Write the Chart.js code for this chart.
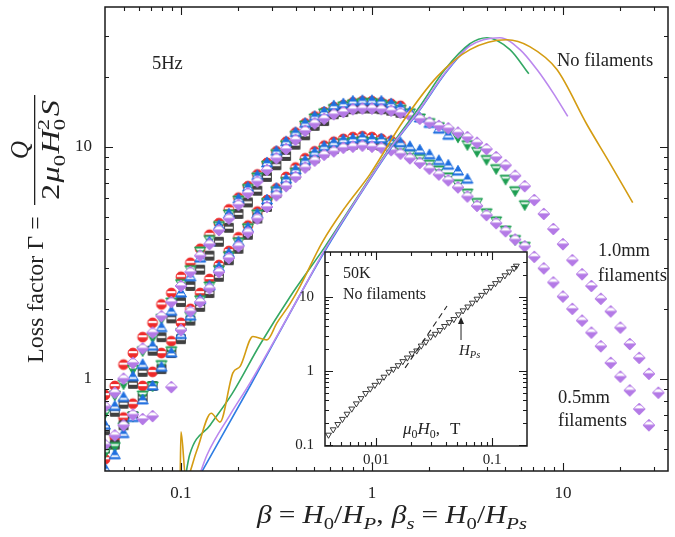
<!DOCTYPE html>
<html>
<head>
<meta charset="utf-8">
<script src="https://cdn.jsdelivr.net/npm/chart.js@4.4.0/dist/chart.umd.min.js"></script>
<style>
  html, body { margin: 0; padding: 0; background: #fff; }
  #wrap { position: relative; width: 675px; height: 537px; }
  #mainChart { position: absolute; left: 0; top: 0; }
  #insetChart { position: absolute; left: 280px; top: 245px; }
</style>
</head>
<body>
<div id="wrap">
  <canvas id="mainChart" width="675" height="537"></canvas>
  <canvas id="insetChart" width="255" height="222"></canvas>
</div>
<script>
// field ratio beta (shared x values for the filament samples)
const betaGrid = [0.040, 0.045, 0.050, 0.056, 0.063, 0.071, 0.079, 0.089, 0.100, 0.112, 0.126, 0.141, 0.158, 0.178, 0.200,
  0.224, 0.251, 0.282, 0.316, 0.355, 0.398, 0.447, 0.501, 0.562, 0.631, 0.708, 0.794, 0.891, 1.00, 1.12, 1.26, 1.41,
  1.58, 1.78, 2.00, 2.24, 2.51, 2.82, 3.16, 3.55, 3.98, 4.47, 5.01, 5.62, 6.31, 7.08, 7.94, 8.91, 10.0, 11.2, 12.6,
  14.1, 15.8, 17.8, 20.0, 22.4, 25.1, 28.2, 31.6];

// 1.0 mm filaments
const mm10Red = [0.85, 0.93, 1.15, 1.29, 1.51, 1.74, 2.09, 2.34, 2.75, 3.16, 3.63, 4.17, 4.68, 5.37, 6.03, 6.76, 7.59, 8.51,
  9.55, 10.5, 11.5, 12.6, 13.5, 14.1, 14.8, 15.1, 15.5, 15.7, 15.7, 15.5, 15.3, 15.0];
const mm10Black = [0.60, 0.72, 0.78, 0.95, 1.07, 1.32, 1.51, 1.82, 2.14, 2.51, 2.95, 3.39, 3.89, 4.47, 5.13, 5.75, 6.46, 7.41,
  8.32, 9.12, 10.2, 11.2, 12.3, 12.9, 13.8, 14.1, 14.5, 14.6, 14.6, 14.5, 14.3, 14.0];
const mm10Green = [0.71, 0.85, 0.95, 1.10, 1.32, 1.51, 1.82, 2.14, 2.57, 2.95, 3.55, 3.98, 4.57, 5.13, 5.89, 6.61, 7.41, 8.32,
  9.33, 10.2, 11.2, 12.4, 13.3, 14.0, 14.6, 15.0, 15.3, 15.5, 15.5, 15.3, 15.0, 14.5, 14.0, 13.3, 12.7, 12.2, 11.6, 11.0,
  10.2, 9.55, 8.81, 8.04, 7.24, 6.46, 5.62];
const mm10Blue = [0.63, 0.76, 0.83, 1.02, 1.15, 1.38, 1.66, 1.95, 2.34, 2.75, 3.31, 3.89, 4.57, 5.13, 5.96, 6.68, 7.50, 8.51,
  9.55, 10.5, 11.5, 12.6, 13.5, 14.1, 15.0, 15.3, 15.7, 15.8, 15.8, 15.7, 15.3, 14.8, 14.1, 13.3, 12.6, 11.9, 11.2];
const mm10Purple = [0.76, 0.87, 1.00, 1.17, 1.35, 1.58, 1.86, 2.14, 2.51, 2.88, 3.39, 3.80, 4.37, 4.90, 5.62, 6.31, 7.08, 7.94,
  8.91, 9.77, 10.7, 11.7, 12.6, 13.2, 13.8, 14.1, 14.5, 14.6, 14.6, 14.5, 14.3, 14.0, 13.6, 13.2, 12.7, 12.3, 12.0, 11.5,
  11.0, 10.4, 9.77, 9.02, 8.32, 7.50, 6.76, 5.89, 5.13, 4.42, 3.80, 3.24, 2.82, 2.51, 2.21, 1.95, 1.66, 1.41, 1.23, 1.05, 0.87];

// 0.5 mm filaments
const mm05Red = [0.45, 0.56, 0.68, 0.78, 0.93, 1.07, 1.29, 1.45, 1.74, 2.00, 2.34, 2.69, 3.09, 3.55, 4.07, 4.57, 5.25, 5.89,
  6.61, 7.41, 8.13, 8.91, 9.55, 10.1, 10.5, 10.8, 11.0, 11.1, 11.0, 10.8, 10.6, 10.2];
const mm05Black = [0.50, 0.52, 0.63, 0.69, 0.83, 0.93, 1.10, 1.29, 1.48, 1.78, 2.04, 2.34, 2.75, 3.24, 3.63, 4.17, 4.90, 5.50,
  6.31, 6.92, 7.59, 8.32, 8.91, 9.44, 9.77, 10.1, 10.2, 10.4, 10.2, 10.1, 9.89];
const mm05Green = [0.48, 0.51, 0.62, 0.69, 0.85, 0.93, 1.15, 1.32, 1.58, 1.86, 2.19, 2.51, 2.95, 3.39, 3.89, 4.47, 5.13, 5.75,
  6.46, 7.08, 7.76, 8.51, 9.12, 9.66, 10.0, 10.4, 10.5, 10.6, 10.5, 10.4, 10.1, 9.77, 9.33, 8.91, 8.41, 7.94, 7.41, 6.92,
  6.31, 5.75, 5.19, 4.79, 4.37, 3.98, 3.72];
const mm05Blue = [0.41, 0.47, 0.58, 0.68, 0.81, 0.93, 1.12, 1.29, 1.55, 1.86, 2.19, 2.51, 3.02, 3.47, 3.89, 4.47, 5.13, 5.89,
  6.61, 7.24, 7.94, 8.71, 9.44, 10.0, 10.4, 10.7, 10.8, 11.0, 10.8, 10.8, 10.6, 10.4, 10.0, 9.66, 9.23, 8.71, 8.32, 7.85, 7.24];
const mm05Purple = [0.52, 0.57, 0.63, 0.70, 0.67, 0.69, null, 0.92, 1.62, 1.95, 2.14, 2.45, 2.88, 3.31, 3.72, 4.27, 4.90, 5.50,
  6.17, 6.76, 7.41, 8.13, 8.71, 9.23, 9.55, 9.89, 10.0, 10.1, 10.0, 9.89, 9.66, 9.33, 8.91, 8.51, 8.04, 7.59, 7.16, 6.68,
  6.10, 5.56, 5.07, 4.68, 4.32, 3.98, 3.72, 3.35, 2.99, 2.60, 2.26, 2.00, 1.78, 1.58, 1.38, 1.17, 1.02, 0.89, 0.74, 0.63];

// no filaments (lines)
const noFilBlueBeta = [0.127, 0.23, 0.42, 0.567, 0.865, 1.24, 1.78, 2.41, 3.26];
const noFilBlueLoss = [0.39, 0.93, 2.30, 3.55, 6.2, 9.7, 14.4, 20.6, 27.8];
const noFilGreenBeta = [0.105, 0.111, 0.142, 0.185, 0.259, 0.372, 0.567, 0.865, 1.24, 1.78, 2.41, 3.26, 4.0, 5.28, 6.63];
const noFilGreenLoss = [0.37, 0.47, 0.63, 0.86, 1.40, 2.25, 3.70, 6.3, 9.9, 14.9, 21.5, 27.8, 29.5, 26.2, 20.6];
const noFilPurpleBeta = [0.123, 0.137, 0.181, 0.23, 0.42, 0.567, 0.865, 1.24, 1.78, 2.41, 3.26, 4.68, 5.96, 7.31, 8.87, 10.6];
const noFilPurpleLoss = [0.37, 0.47, 0.70, 0.96, 2.30, 3.60, 6.25, 9.8, 14.5, 20.8, 27.2, 29.5, 26.2, 21.5, 17.1, 13.5];
const noFilOrangeBeta = [0.099, 0.100, 0.106, 0.121, 0.144, 0.160, 0.187, 0.204, 0.238, 0.282, 0.318, 0.372, 0.42, 0.547,
  0.72, 0.976, 1.45, 2.19, 3.26, 5.09, 6.7, 9.3, 13.4, 17.6, 23.2];
const noFilOrangeLoss = [0.37, 0.59, 0.37, 0.49, 0.71, 0.65, 1.06, 1.13, 1.52, 1.47, 1.74, 2.10, 2.50, 3.85, 5.45, 7.6,
  12.8, 20.0, 26.2, 28.9, 27.0, 21.5, 12.4, 8.5, 5.74];

// inset: 50K, no filaments, against mu0*H0 in T
const insetField = [0.00389, 0.00427, 0.00468, 0.00513, 0.00562, 0.00617, 0.00676, 0.00741, 0.00813, 0.00891, 0.00977,
  0.0107, 0.0117, 0.0129, 0.0141, 0.0155, 0.0170, 0.0186, 0.0204, 0.0224, 0.0245, 0.0269, 0.0295, 0.0324, 0.0355, 0.0389,
  0.0427, 0.0468, 0.0513, 0.0562, 0.0617, 0.0676, 0.0741, 0.0813, 0.0891, 0.0977, 0.107, 0.117, 0.129, 0.141, 0.155, 0.162];
const insetLoss = [0.137, 0.162, 0.191, 0.224, 0.263, 0.309, 0.363, 0.427, 0.501, 0.575, 0.646, 0.733, 0.832, 0.97, 1.06,
  1.19, 1.35, 1.51, 1.72, 1.88, 2.19, 2.47, 2.90, 3.16, 3.55, 4.03, 4.54, 5.00, 5.79, 6.55, 7.38, 8.32, 9.42, 10.6, 12.0,
  13.6, 15.3, 17.3, 19.5, 21.9, 24.5, 26.3];
const insetRefField = [0.0178, 0.0409];
const insetRefLoss = [1.10, 7.56];
const insetArrowField = [0.054, 0.054];
const insetArrowLoss = [2.62, 5.37];

// axis ticks
const mainXMajor = [0.1, 1, 10];
const mainXMinor = [0.05, 0.06, 0.07, 0.08, 0.09, 0.2, 0.3, 0.4, 0.5, 0.6, 0.7, 0.8, 0.9, 2, 3, 4, 5, 6, 7, 8, 9, 20, 30];
const mainYMajor = [1, 10];
const mainYMinor = [0.5, 0.6, 0.7, 0.8, 0.9, 2, 3, 4, 5, 6, 7, 8, 9, 20, 30];
const insetXMajor = [0.01, 0.1];
const insetXMinor = [0.004, 0.005, 0.006, 0.007, 0.008, 0.009, 0.02, 0.03, 0.04, 0.05, 0.06, 0.07, 0.08, 0.09];
const insetYMajor = [0.1, 1, 10];
const insetYMinor = [0.2, 0.3, 0.4, 0.5, 0.6, 0.7, 0.8, 0.9, 2, 3, 4, 5, 6, 7, 8, 9, 20, 30];

const SERIF = '"Liberation Serif", "Times New Roman", serif';
Chart.defaults.font.family = SERIF;
Chart.defaults.color = '#222';

function pts(xs, ys) {
  const out = [];
  ys.forEach((y, i) => { if (y !== null) out.push({ x: xs[i], y: y }); });
  return out;
}

// little marker pictures with the white highlight band
function makeMarker(shape, color) {
  const s = 14, m = s / 2;
  const c = document.createElement('canvas');
  c.width = s; c.height = s;
  const g = c.getContext('2d');
  g.beginPath();
  if (shape === 'circle') g.arc(m, m, 4.9, 0, Math.PI * 2);
  else if (shape === 'square') g.rect(m - 4.4, m - 4.4, 8.8, 8.8);
  else if (shape === 'up') { g.moveTo(m, m - 5.7); g.lineTo(m + 5.5, m + 4); g.lineTo(m - 5.5, m + 4); g.closePath(); }
  else if (shape === 'down') { g.moveTo(m, m + 5.7); g.lineTo(m + 5.5, m - 4); g.lineTo(m - 5.5, m - 4); g.closePath(); }
  else { g.moveTo(m, m - 5.9); g.lineTo(m + 5.9, m); g.lineTo(m, m + 5.9); g.lineTo(m - 5.9, m); g.closePath(); }
  g.fillStyle = color;
  g.fill();
  g.save();
  g.clip();
  g.fillStyle = '#fff';
  if (shape === 'circle') g.fillRect(0, m - 1.9, s, 2.1);
  else if (shape === 'square') g.fillRect(0, m - 1.2, s, 2.1);
  else if (shape === 'up') g.fillRect(0, m + 0.4, s, 1.9);
  else if (shape === 'down') g.fillRect(0, m - 2.5, s, 1.9);
  else g.fillRect(0, m - 3.6, s, 3.0);
  g.restore();
  g.lineWidth = 1;
  g.strokeStyle = color;
  g.stroke();
  return c;
}

const RED = '#ee2a2a', BLACK = '#404040', GREEN = '#1e9e52', BLUE = '#1f6fe0', PURPLE = '#b47ae6';
const redDot = makeMarker('circle', RED);
const blackSq = makeMarker('square', BLACK);
const greenTri = makeMarker('down', GREEN);
const blueTri = makeMarker('up', BLUE);
const purpleDia = makeMarker('diamond', PURPLE);

function markerSet(label, ys, img, order) {
  return { label: label, data: pts(betaGrid, ys), pointStyle: img, pointRadius: 5, showLine: false, order: order, clip: 0 };
}
function curveSet(label, xs, ys, color) {
  return { label: label, data: pts(xs, ys), showLine: true, pointRadius: 0, borderColor: color, borderWidth: 1.6,
    cubicInterpolationMode: 'monotone', fill: false, order: 0, clip: 0 };
}

// text with italics, sub- and superscripts; numbers are extra gaps
function fontFor(f, size) {
  const s = (f.includes('b') || f.includes('p')) ? size * 0.7 : size;
  return (f.includes('i') ? 'italic ' : '') + s.toFixed(1) + 'px ' + SERIF;
}
function richWidth(ctx, parts, size) {
  let w = 0;
  parts.forEach(p => {
    if (typeof p === 'number') { w += p; return; }
    ctx.font = fontFor(p[1], size);
    if (!p[1].includes('k')) w += ctx.measureText(p[0]).width;
  });
  return w;
}
function drawRich(ctx, parts, x, y, size, align, fitWidth) {
  const nat = richWidth(ctx, parts, size);
  const sx = fitWidth ? fitWidth / nat : 1;
  const x0 = align === 'center' ? x - nat * sx / 2 : x;
  ctx.save();
  ctx.translate(x0, y);
  ctx.scale(sx, 1);
  ctx.textAlign = 'left';
  ctx.textBaseline = 'alphabetic';
  let px = 0;
  parts.forEach(p => {
    if (typeof p === 'number') { px += p; return; }
    const t = p[0], f = p[1];
    ctx.font = fontFor(f, size);
    const dy = f.includes('b') ? size * 0.22 : (f.includes('p') ? -size * 0.4 : 0);
    ctx.fillText(t, px, dy);
    if (!f.includes('k')) px += ctx.measureText(t).width;
  });
  ctx.restore();
}

function drawFrame(chart, xMaj, xMin, yMaj, yMin) {
  const { ctx, chartArea: a, scales } = chart;
  ctx.save();
  ctx.strokeStyle = '#1a1a1a';
  ctx.lineWidth = 1.1;
  ctx.beginPath();
  const xt = (v, len) => {
    const px = Math.round(scales.x.getPixelForValue(v)) + 0.5;
    ctx.moveTo(px, a.bottom); ctx.lineTo(px, a.bottom - len);
    ctx.moveTo(px, a.top); ctx.lineTo(px, a.top + len);
  };
  const yt = (v, len) => {
    const py = Math.round(scales.y.getPixelForValue(v)) + 0.5;
    ctx.moveTo(a.left, py); ctx.lineTo(a.left + len, py);
    ctx.moveTo(a.right, py); ctx.lineTo(a.right - len, py);
  };
  xMaj.forEach(v => xt(v, 8));
  xMin.forEach(v => xt(v, 4));
  yMaj.forEach(v => yt(v, 8));
  yMin.forEach(v => yt(v, 4));
  ctx.stroke();
  ctx.lineWidth = 1.5;
  ctx.strokeRect(a.left, a.top, a.width, a.height);
  ctx.restore();
}

// fixed axis boxes so the plot area lands where the figure has it
function fixX(h) {
  return s => { s.height = h; s.paddingLeft = 0; s.paddingRight = 0; s.paddingTop = 0; s.paddingBottom = 0; };
}
function fixY(w) {
  return s => { s.width = w; s.paddingLeft = 0; s.paddingRight = 0; s.paddingTop = 0; s.paddingBottom = 0; };
}

const mainDecor = {
  id: 'mainDecor',
  afterDraw(chart) {
    const ctx = chart.ctx;
    drawFrame(chart, mainXMajor, mainXMinor, mainYMajor, mainYMinor);
    ctx.save();
    ctx.fillStyle = '#222';
    ctx.font = '18.5px ' + SERIF;
    ctx.fillText('5Hz', 152, 69);
    ctx.fillText('No filaments', 557, 66);
    ctx.fillText('1.0mm', 598, 256);
    ctx.fillText('filaments', 598, 281);
    ctx.fillText('0.5mm', 558, 403);
    ctx.fillText('filaments', 558, 426);

    // x axis title
    drawRich(ctx, [['β', 'i'], 6, ['=', ''], 6, ['H', 'i'], ['0', 'b'], ['/', ''], ['H', 'i'], ['P', 'ib'], [',', ''], 7,
      ['β', 'i'], ['s', 'ib'], 6, ['=', ''], 6, ['H', 'i'], ['0', 'b'], ['/', ''], ['H', 'i'], ['Ps', 'ib']],
      392, 523, 25, 'center', 270);

    // y axis title with the fraction
    ctx.translate(43, 363);
    ctx.rotate(-Math.PI / 2);
    drawRich(ctx, [['Loss factor Γ =', '']], 0, 0, 24, 'left');
    ctx.fillRect(158, -9, 110, 1.3);
    drawRich(ctx, [['Q', 'i']], 213, -15, 25, 'center');
    drawRich(ctx, [['2', ''], 1, ['μ', 'i'], ['0', 'b'], 1, ['H', 'i'], ['0', 'bk'], ['2', 'p'], 2, ['S', 'i']],
      213, 16, 25, 'center', 100);
    ctx.restore();
  }
};

new Chart(document.getElementById('mainChart'), {
  type: 'scatter',
  data: {
    datasets: [
      curveSet('No filaments (orange)', noFilOrangeBeta, noFilOrangeLoss, '#d49c12'),
      curveSet('No filaments (purple)', noFilPurpleBeta, noFilPurpleLoss, '#bb88ee'),
      curveSet('No filaments (green)', noFilGreenBeta, noFilGreenLoss, '#34a864'),
      curveSet('No filaments (blue)', noFilBlueBeta, noFilBlueLoss, '#2e7de3'),
      markerSet('1.0mm purple', mm10Purple, purpleDia, 1),
      markerSet('0.5mm purple', mm05Purple, purpleDia, 1),
      markerSet('1.0mm blue', mm10Blue, blueTri, 2),
      markerSet('0.5mm blue', mm05Blue, blueTri, 2),
      markerSet('1.0mm green', mm10Green, greenTri, 3),
      markerSet('0.5mm green', mm05Green, greenTri, 3),
      markerSet('1.0mm black', mm10Black, blackSq, 4),
      markerSet('0.5mm black', mm05Black, blackSq, 4),
      markerSet('1.0mm red', mm10Red, redDot, 5),
      markerSet('0.5mm red', mm05Red, redDot, 5)
    ]
  },
  options: {
    responsive: false,
    animation: false,
    layout: { padding: { top: 7, right: 7, left: 0, bottom: 0 } },
    plugins: { legend: { display: false }, tooltip: { enabled: false } },
    scales: {
      x: {
        type: 'logarithmic', min: 0.04, max: 35.5,
        grid: { display: false, drawTicks: false }, border: { display: false },
        ticks: { padding: 12, font: { size: 17 }, color: '#222', maxRotation: 0, autoSkip: false, callback: v => String(v) },
        afterBuildTicks: s => { s.ticks = mainXMajor.map(v => ({ value: v })); },
        afterFit: fixX(66)
      },
      y: {
        type: 'logarithmic', min: 0.4, max: 40,
        grid: { display: false, drawTicks: false }, border: { display: false },
        ticks: { padding: 13, font: { size: 17 }, color: '#222', autoSkip: false, callback: v => String(v) },
        afterBuildTicks: s => { s.ticks = mainYMajor.map(v => ({ value: v })); },
        afterFit: fixY(105)
      }
    }
  },
  plugins: [mainDecor]
});

// inset
const insetDecor = {
  id: 'insetDecor',
  beforeDraw(chart) {
    const { ctx, chartArea: a } = chart;
    ctx.save();
    ctx.fillStyle = '#fff';
    ctx.fillRect(a.left, a.top, a.width, a.height);
    ctx.restore();
  },
  afterDraw(chart) {
    const { ctx, scales } = chart;
    drawFrame(chart, insetXMajor, insetXMinor, insetYMajor, insetYMinor);
    ctx.save();
    ctx.fillStyle = '#222';
    ctx.font = '16px ' + SERIF;
    ctx.fillText('50K', 63, 33);
    ctx.fillText('No filaments', 63, 54);
    drawRich(ctx, [['μ', 'i'], ['0', 'b'], ['H', 'i'], ['0', 'b'], [',', ''], 10, ['T', '']], 123, 189, 17, 'left');
    drawRich(ctx, [['H', 'i'], ['Ps', 'ib']], 179, 110, 15, 'left');
    // arrow pointing at H_Ps
    const ax = scales.x.getPixelForValue(insetArrowField[0]);
    const ay0 = scales.y.getPixelForValue(insetArrowLoss[0]);
    const ay1 = scales.y.getPixelForValue(insetArrowLoss[1]);
    ctx.strokeStyle = '#222';
    ctx.lineWidth = 1;
    ctx.beginPath();
    ctx.moveTo(ax, ay0); ctx.lineTo(ax, ay1 + 5);
    ctx.stroke();
    ctx.beginPath();
    ctx.moveTo(ax, ay1); ctx.lineTo(ax - 3, ay1 + 7); ctx.lineTo(ax + 3, ay1 + 7); ctx.closePath();
    ctx.fill();
    ctx.restore();
  }
};

new Chart(document.getElementById('insetChart'), {
  type: 'scatter',
  data: {
    datasets: [
      { label: 'reference', data: pts(insetRefField, insetRefLoss), showLine: true, pointRadius: 0,
        borderColor: '#222', borderWidth: 1.1, borderDash: [6, 4], clip: 0 },
      { label: '50K no filaments', data: pts(insetField, insetLoss), pointStyle: 'triangle', rotation: 180,
        pointRadius: 3.4, borderColor: '#222', borderWidth: 0.9, backgroundColor: 'rgba(255,255,255,0)', clip: 0 }
    ]
  },
  options: {
    responsive: false,
    animation: false,
    layout: { padding: { top: 7, right: 8, left: 0, bottom: 0 } },
    plugins: { legend: { display: false }, tooltip: { enabled: false } },
    scales: {
      x: {
        type: 'logarithmic', min: 0.00363, max: 0.2,
        grid: { display: false, drawTicks: false }, border: { display: false },
        ticks: { padding: 5, font: { size: 15 }, color: '#222', maxRotation: 0, autoSkip: false, callback: v => String(v) },
        afterBuildTicks: s => { s.ticks = insetXMajor.map(v => ({ value: v })); },
        afterFit: fixX(21)
      },
      y: {
        type: 'logarithmic', min: 0.097, max: 40.5,
        grid: { display: false, drawTicks: false }, border: { display: false },
        ticks: { padding: 11, font: { size: 15 }, color: '#222', autoSkip: false, callback: v => String(v) },
        afterBuildTicks: s => { s.ticks = insetYMajor.map(v => ({ value: v })); },
        afterFit: fixY(45)
      }
    }
  },
  plugins: [insetDecor]
});
</script>
</body>
</html>
